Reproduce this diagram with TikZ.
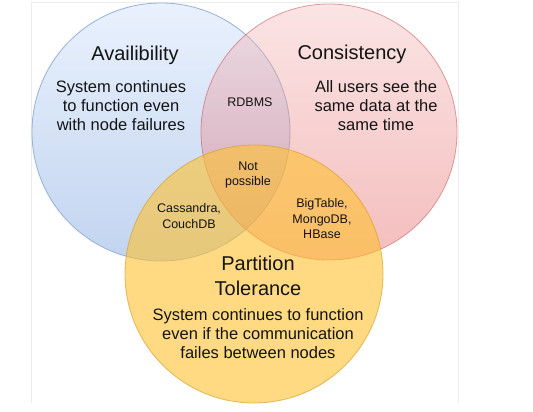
\documentclass[tikz,border=0pt]{standalone}
\usepackage{fontspec}
\setmainfont{Liberation Sans}
\usetikzlibrary{positioning}
\definecolor{availtop}{RGB}{233,241,253}
\definecolor{availbot}{RGB}{194,212,240}
\definecolor{availline}{RGB}{150,176,216}
\definecolor{constop}{RGB}{245,188,188}
\definecolor{consbot}{RGB}{228,90,90}
\definecolor{consline}{RGB}{200,95,95}
\definecolor{partfill}{RGB}{255,193,47}
\definecolor{partline}{RGB}{218,160,40}
\definecolor{framegray}{RGB}{236,236,236}
\definecolor{txt}{RGB}{20,20,20}

\begin{document}
\begin{tikzpicture}[x=1pt, y=-1pt,
    circtitle/.style={font=\fontsize{20}{24}\selectfont, text=txt, inner sep=0pt},
    circtext/.style={font=\fontsize{16.5}{19}\selectfont, text=txt, align=center, inner sep=0pt},
    regiontext/.style={font=\fontsize{12.5}{15.5}\selectfont, text=txt, align=center, inner sep=0pt}]
    \useasboundingbox (0,0) rectangle (533,412);

    % Frame
    \draw[framegray, line width=0.8pt] (31.7,403) -- (31.7,2.3) -- (458.3,2.3) -- (458.3,403);

    % Availibility circle
    \shade[top color=availtop, bottom color=availbot] (161,132) circle (129);
    \draw[availline, line width=0.8pt] (161,132) circle (129);

    % Consistency circle
    \shade[top color=constop, bottom color=consbot, fill opacity=0.4] (329,132) circle (128);
    \draw[consline, draw opacity=0.6, line width=0.8pt] (329,132) circle (128);

    % Partition tolerance circle
    \fill[partfill, fill opacity=0.6] (254,274) circle (129);
    \draw[partline, draw opacity=0.7, line width=0.8pt] (254,274) circle (129);

    % Labels
    \node[circtitle] (avail) at (135,55) {Availibility};
    \node[circtext] (availtext) at (121,106) {System continues\\to function even\\with node failures};
    \node[circtitle] (consist) at (352,54) {Consistency};
    \node[circtext] (consisttext) at (376,106) {All users see the\\same data at the\\same time};
    \node[circtitle, align=center, font=\fontsize{20}{25}\selectfont] (partition) at (258,276) {Partition\\Tolerance};
    \node[circtext] (partitiontext) at (258,334) {System continues to function\\even if the communication\\failes between nodes};

    % Overlap regions
    \node[regiontext] (rdbms) at (250,102) {RDBMS};
    \node[regiontext] (none) at (248,175) {Not\\possible};
    \node[regiontext] (ap) at (189,216) {Cassandra,\\CouchDB};
    \node[regiontext] (cp) at (322,219) {BigTable,\\MongoDB,\\HBase};
\end{tikzpicture}
\end{document}
